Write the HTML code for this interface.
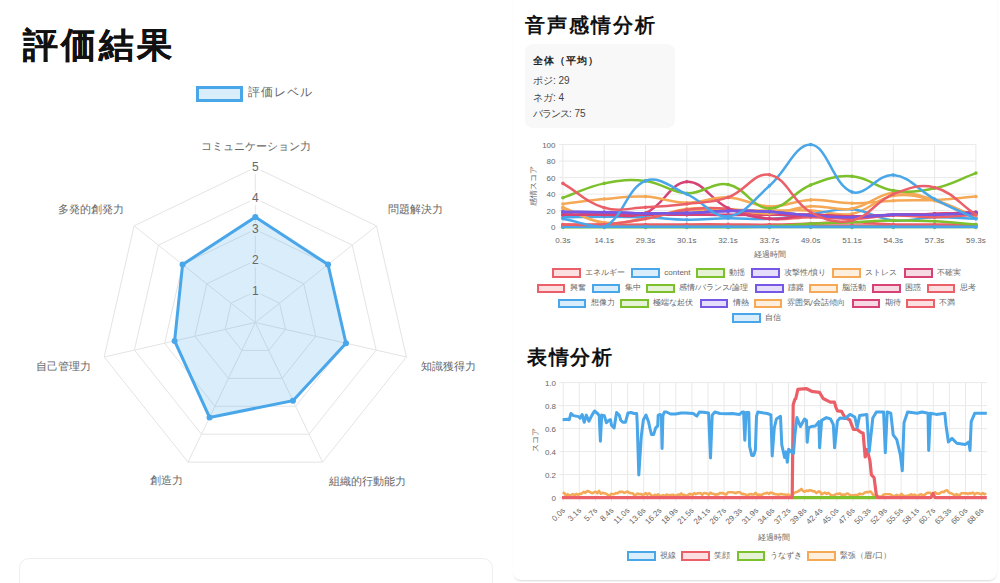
<!DOCTYPE html><html><head><meta charset="utf-8"><style>
html,body{margin:0;padding:0;background:#fff;}
body{width:1000px;height:583px;overflow:hidden;position:relative;font-family:"Liberation Sans", sans-serif;}
.abs{position:absolute;white-space:nowrap}
</style></head><body>
<div class="abs" style="left:22.5px;top:27px;font-size:35px;line-height:35px;font-weight:bold;letter-spacing:3.1px;color:#111;-webkit-text-stroke:0.25px #111">評価結果</div>
<div class="abs" style="left:196px;top:85.5px;width:47px;height:16px;box-sizing:border-box;border:3px solid rgb(72,166,233);background:rgba(72,166,233,0.20)"></div>
<div class="abs" style="left:248px;top:86px;font-size:12px;line-height:13px;letter-spacing:1px;color:#666">評価レベル</div>
<svg width="500" height="583" style="position:absolute;left:0;top:0">
<polygon points="255.30,291.50 279.54,303.17 285.52,329.40 268.75,350.43 241.85,350.43 225.08,329.40 231.06,303.17" fill="none" stroke="#e4e4e4" stroke-width="1"/>
<polygon points="255.30,260.50 303.77,283.84 315.75,336.30 282.20,378.36 228.40,378.36 194.85,336.30 206.83,283.84" fill="none" stroke="#e4e4e4" stroke-width="1"/>
<polygon points="255.30,229.50 328.01,264.52 345.97,343.19 295.65,406.29 214.95,406.29 164.63,343.19 182.59,264.52" fill="none" stroke="#e4e4e4" stroke-width="1"/>
<polygon points="255.30,198.50 352.25,245.19 376.19,350.09 309.10,434.22 201.50,434.22 134.41,350.09 158.35,245.19" fill="none" stroke="#e4e4e4" stroke-width="1"/>
<polygon points="255.30,167.50 376.48,225.86 406.41,356.99 322.55,462.15 188.05,462.15 104.19,356.99 134.12,225.86" fill="none" stroke="#e4e4e4" stroke-width="1"/>
<line x1="255.30" y1="322.50" x2="255.30" y2="167.50" stroke="#e4e4e4" stroke-width="1"/>
<line x1="255.30" y1="322.50" x2="376.48" y2="225.86" stroke="#e4e4e4" stroke-width="1"/>
<line x1="255.30" y1="322.50" x2="406.41" y2="356.99" stroke="#e4e4e4" stroke-width="1"/>
<line x1="255.30" y1="322.50" x2="322.55" y2="462.15" stroke="#e4e4e4" stroke-width="1"/>
<line x1="255.30" y1="322.50" x2="188.05" y2="462.15" stroke="#e4e4e4" stroke-width="1"/>
<line x1="255.30" y1="322.50" x2="104.19" y2="356.99" stroke="#e4e4e4" stroke-width="1"/>
<line x1="255.30" y1="322.50" x2="134.12" y2="225.86" stroke="#e4e4e4" stroke-width="1"/>
<rect x="249.8" y="284.5" width="11" height="14" fill="rgba(255,255,255,0.75)"/>
<rect x="249.8" y="253.5" width="11" height="14" fill="rgba(255,255,255,0.75)"/>
<rect x="249.8" y="222.5" width="11" height="14" fill="rgba(255,255,255,0.75)"/>
<rect x="249.8" y="191.5" width="11" height="14" fill="rgba(255,255,255,0.75)"/>
<rect x="249.8" y="160.5" width="11" height="14" fill="rgba(255,255,255,0.75)"/>
<polygon points="255.30,217.10 328.01,264.52 345.97,343.19 292.96,400.70 209.57,417.46 174.61,340.92 182.59,264.52" fill="rgba(72,166,233,0.20)" stroke="none"/>
<text x="255.3" y="294.8" font-size="12" fill="#666" text-anchor="middle" font-family='"Liberation Sans", sans-serif'>1</text>
<text x="255.3" y="263.8" font-size="12" fill="#666" text-anchor="middle" font-family='"Liberation Sans", sans-serif'>2</text>
<text x="255.3" y="232.8" font-size="12" fill="#666" text-anchor="middle" font-family='"Liberation Sans", sans-serif'>3</text>
<text x="255.3" y="201.8" font-size="12" fill="#666" text-anchor="middle" font-family='"Liberation Sans", sans-serif'>4</text>
<text x="255.3" y="170.8" font-size="12" fill="#666" text-anchor="middle" font-family='"Liberation Sans", sans-serif'>5</text>
<polygon points="255.30,217.10 328.01,264.52 345.97,343.19 292.96,400.70 209.57,417.46 174.61,340.92 182.59,264.52" fill="none" stroke="rgb(72,166,233)" stroke-width="3" stroke-linejoin="miter"/>
<circle cx="255.30" cy="217.10" r="3" fill="rgb(72,166,233)"/>
<circle cx="328.01" cy="264.52" r="3" fill="rgb(72,166,233)"/>
<circle cx="345.97" cy="343.19" r="3" fill="rgb(72,166,233)"/>
<circle cx="292.96" cy="400.70" r="3" fill="rgb(72,166,233)"/>
<circle cx="209.57" cy="417.46" r="3" fill="rgb(72,166,233)"/>
<circle cx="174.61" cy="340.92" r="3" fill="rgb(72,166,233)"/>
<circle cx="182.59" cy="264.52" r="3" fill="rgb(72,166,233)"/>
</svg>
<div class="abs" style="left:256.0px;top:141.0px;font-size:11px;line-height:11px;letter-spacing:0px;color:#666;transform:translateX(-50%)">コミュニケーション力</div>
<div class="abs" style="left:388.0px;top:204.0px;font-size:11px;line-height:11px;letter-spacing:0px;color:#666;transform:">問題解決力</div>
<div class="abs" style="left:421.0px;top:361.0px;font-size:11px;line-height:11px;letter-spacing:0px;color:#666;transform:">知識獲得力</div>
<div class="abs" style="left:329.0px;top:475.5px;font-size:11px;line-height:11px;letter-spacing:0px;color:#666;transform:">組織的行動能力</div>
<div class="abs" style="left:183.0px;top:475.0px;font-size:11px;line-height:11px;letter-spacing:0px;color:#666;transform:translateX(-100%)">創造力</div>
<div class="abs" style="left:91.0px;top:360.5px;font-size:11px;line-height:11px;letter-spacing:0px;color:#666;transform:translateX(-100%)">自己管理力</div>
<div class="abs" style="left:124.0px;top:204.3px;font-size:11px;line-height:11px;letter-spacing:0px;color:#666;transform:translateX(-100%)">多発的創発力</div>
<div class="abs" style="left:19px;top:558px;width:472px;height:60px;border:1px solid #eeeeee;border-radius:10px;"></div>
<div class="abs" style="left:513px;top:-10px;width:484px;height:590px;border-radius:8px;box-shadow:0 2px 2px -1px rgba(0,0,0,0.15), 1px 0 2px -1px rgba(0,0,0,0.05);background:#fff"></div>
<div class="abs" style="left:525px;top:15px;font-size:20px;line-height:20px;font-weight:bold;letter-spacing:2px;color:#111">音声感情分析</div>
<div class="abs" style="left:525px;top:44.4px;width:150px;height:83.2px;border-radius:8px;background:#f8f8f8"></div>
<div class="abs" style="left:533px;top:55.5px;font-size:10px;line-height:10px;font-weight:bold;letter-spacing:1px;color:#222">全体（平均）</div>
<div class="abs" style="left:533px;top:75px;font-size:10px;line-height:11px;color:#444">ポジ: 29</div>
<div class="abs" style="left:533px;top:92px;font-size:10px;line-height:11px;color:#444">ネガ: 4</div>
<div class="abs" style="left:533px;top:108px;font-size:10px;line-height:11px;color:#444"><span style="letter-spacing:-1px">バランス</span>: 75</div>
<svg width="1000" height="583" style="position:absolute;left:0;top:0">
<line x1="558.9" y1="227.1" x2="975.9" y2="227.1" stroke="#e9e9e9" stroke-width="1"/>
<text x="555.5" y="230.0" font-size="8" fill="#666" text-anchor="end" font-family='"Liberation Sans", sans-serif'>0</text>
<line x1="558.9" y1="210.6" x2="975.9" y2="210.6" stroke="#e9e9e9" stroke-width="1"/>
<text x="555.5" y="213.5" font-size="8" fill="#666" text-anchor="end" font-family='"Liberation Sans", sans-serif'>20</text>
<line x1="558.9" y1="194.1" x2="975.9" y2="194.1" stroke="#e9e9e9" stroke-width="1"/>
<text x="555.5" y="197.0" font-size="8" fill="#666" text-anchor="end" font-family='"Liberation Sans", sans-serif'>40</text>
<line x1="558.9" y1="177.6" x2="975.9" y2="177.6" stroke="#e9e9e9" stroke-width="1"/>
<text x="555.5" y="180.5" font-size="8" fill="#666" text-anchor="end" font-family='"Liberation Sans", sans-serif'>60</text>
<line x1="558.9" y1="161.1" x2="975.9" y2="161.1" stroke="#e9e9e9" stroke-width="1"/>
<text x="555.5" y="164.0" font-size="8" fill="#666" text-anchor="end" font-family='"Liberation Sans", sans-serif'>80</text>
<line x1="558.9" y1="144.6" x2="975.9" y2="144.6" stroke="#e9e9e9" stroke-width="1"/>
<text x="555.5" y="147.5" font-size="8" fill="#666" text-anchor="end" font-family='"Liberation Sans", sans-serif'>100</text>
<line x1="562.9" y1="144.6" x2="562.9" y2="231.1" stroke="#e9e9e9" stroke-width="1"/>
<text x="562.9" y="242.6" font-size="8" fill="#666" text-anchor="middle" font-family='"Liberation Sans", sans-serif'>0.3s</text>
<line x1="604.2" y1="144.6" x2="604.2" y2="231.1" stroke="#e9e9e9" stroke-width="1"/>
<text x="604.2" y="242.6" font-size="8" fill="#666" text-anchor="middle" font-family='"Liberation Sans", sans-serif'>14.1s</text>
<line x1="645.5" y1="144.6" x2="645.5" y2="231.1" stroke="#e9e9e9" stroke-width="1"/>
<text x="645.5" y="242.6" font-size="8" fill="#666" text-anchor="middle" font-family='"Liberation Sans", sans-serif'>29.3s</text>
<line x1="686.8" y1="144.6" x2="686.8" y2="231.1" stroke="#e9e9e9" stroke-width="1"/>
<text x="686.8" y="242.6" font-size="8" fill="#666" text-anchor="middle" font-family='"Liberation Sans", sans-serif'>30.1s</text>
<line x1="728.1" y1="144.6" x2="728.1" y2="231.1" stroke="#e9e9e9" stroke-width="1"/>
<text x="728.1" y="242.6" font-size="8" fill="#666" text-anchor="middle" font-family='"Liberation Sans", sans-serif'>32.1s</text>
<line x1="769.4" y1="144.6" x2="769.4" y2="231.1" stroke="#e9e9e9" stroke-width="1"/>
<text x="769.4" y="242.6" font-size="8" fill="#666" text-anchor="middle" font-family='"Liberation Sans", sans-serif'>33.7s</text>
<line x1="810.7" y1="144.6" x2="810.7" y2="231.1" stroke="#e9e9e9" stroke-width="1"/>
<text x="810.7" y="242.6" font-size="8" fill="#666" text-anchor="middle" font-family='"Liberation Sans", sans-serif'>49.0s</text>
<line x1="852.0" y1="144.6" x2="852.0" y2="231.1" stroke="#e9e9e9" stroke-width="1"/>
<text x="852.0" y="242.6" font-size="8" fill="#666" text-anchor="middle" font-family='"Liberation Sans", sans-serif'>51.1s</text>
<line x1="893.3" y1="144.6" x2="893.3" y2="231.1" stroke="#e9e9e9" stroke-width="1"/>
<text x="893.3" y="242.6" font-size="8" fill="#666" text-anchor="middle" font-family='"Liberation Sans", sans-serif'>54.3s</text>
<line x1="934.6" y1="144.6" x2="934.6" y2="231.1" stroke="#e9e9e9" stroke-width="1"/>
<text x="934.6" y="242.6" font-size="8" fill="#666" text-anchor="middle" font-family='"Liberation Sans", sans-serif'>57.3s</text>
<line x1="975.9" y1="144.6" x2="975.9" y2="231.1" stroke="#e9e9e9" stroke-width="1"/>
<text x="975.9" y="242.6" font-size="8" fill="#666" text-anchor="middle" font-family='"Liberation Sans", sans-serif'>59.3s</text>
<text x="769.6" y="256.6" font-size="8" fill="#666" text-anchor="middle" font-family='"Liberation Sans", sans-serif'>経過時間</text>
<text transform="translate(535.5,186) rotate(-90)" font-size="8" fill="#666" text-anchor="middle" font-family='"Liberation Sans", sans-serif'>感情スコア</text>
<path d="M562.90,227.10 C579.42,227.10 587.68,227.10 604.20,227.10 C620.72,227.10 628.98,227.10 645.50,227.10 C662.02,227.10 670.28,227.10 686.80,227.10 C703.32,227.10 711.58,227.10 728.10,227.10 C744.62,227.10 752.88,227.10 769.40,227.10 C785.92,227.10 794.18,227.10 810.70,227.10 C827.22,227.10 835.48,227.10 852.00,227.10 C868.52,227.10 876.78,227.10 893.30,227.10 C909.82,227.10 918.08,227.10 934.60,227.10 C951.12,227.10 959.38,227.10 975.90,227.10" fill="none" stroke="rgb(72,166,233)" stroke-width="2.5"/>
<circle cx="562.9" cy="227.1" r="1.8" fill="rgb(72,166,233)"/>
<circle cx="604.2" cy="227.1" r="1.8" fill="rgb(72,166,233)"/>
<circle cx="645.5" cy="227.1" r="1.8" fill="rgb(72,166,233)"/>
<circle cx="686.8" cy="227.1" r="1.8" fill="rgb(72,166,233)"/>
<circle cx="728.1" cy="227.1" r="1.8" fill="rgb(72,166,233)"/>
<circle cx="769.4" cy="227.1" r="1.8" fill="rgb(72,166,233)"/>
<circle cx="810.7" cy="227.1" r="1.8" fill="rgb(72,166,233)"/>
<circle cx="852.0" cy="227.1" r="1.8" fill="rgb(72,166,233)"/>
<circle cx="893.3" cy="227.1" r="1.8" fill="rgb(72,166,233)"/>
<circle cx="934.6" cy="227.1" r="1.8" fill="rgb(72,166,233)"/>
<circle cx="975.9" cy="227.1" r="1.8" fill="rgb(72,166,233)"/>
<path d="M562.90,225.45 C579.42,225.45 587.68,225.45 604.20,225.45 C620.72,225.45 628.98,225.45 645.50,225.45 C662.02,225.45 670.28,225.45 686.80,225.45 C703.32,225.45 711.58,225.45 728.10,225.45 C744.62,225.45 752.88,225.45 769.40,225.45 C785.92,225.45 794.18,225.45 810.70,225.45 C827.22,225.45 835.48,225.45 852.00,225.45 C868.52,225.45 876.78,225.45 893.30,225.45 C909.82,225.45 918.08,225.45 934.60,225.45 C951.12,225.45 959.38,225.45 975.90,225.45" fill="none" stroke="rgb(235,96,104)" stroke-width="2.5"/>
<circle cx="562.9" cy="225.4" r="1.8" fill="rgb(235,96,104)"/>
<circle cx="604.2" cy="225.4" r="1.8" fill="rgb(235,96,104)"/>
<circle cx="645.5" cy="225.4" r="1.8" fill="rgb(235,96,104)"/>
<circle cx="686.8" cy="225.4" r="1.8" fill="rgb(235,96,104)"/>
<circle cx="728.1" cy="225.4" r="1.8" fill="rgb(235,96,104)"/>
<circle cx="769.4" cy="225.4" r="1.8" fill="rgb(235,96,104)"/>
<circle cx="810.7" cy="225.4" r="1.8" fill="rgb(235,96,104)"/>
<circle cx="852.0" cy="225.4" r="1.8" fill="rgb(235,96,104)"/>
<circle cx="893.3" cy="225.4" r="1.8" fill="rgb(235,96,104)"/>
<circle cx="934.6" cy="225.4" r="1.8" fill="rgb(235,96,104)"/>
<circle cx="975.9" cy="225.4" r="1.8" fill="rgb(235,96,104)"/>
<path d="M562.90,214.72 C579.42,214.72 587.68,214.72 604.20,214.72 C620.72,214.72 628.98,214.72 645.50,214.72 C662.02,214.72 670.28,214.68 686.80,214.72 C703.32,214.77 711.58,214.97 728.10,214.97 C744.62,214.97 752.88,214.77 769.40,214.72 C785.92,214.68 794.19,214.40 810.70,214.72 C827.23,215.06 835.48,216.38 852.00,216.38 C868.52,216.38 876.78,215.22 893.30,214.72 C909.82,214.23 918.08,214.39 934.60,213.90 C951.12,213.40 959.38,212.91 975.90,212.25" fill="none" stroke="rgb(214,66,118)" stroke-width="2.5"/>
<circle cx="562.9" cy="214.7" r="1.8" fill="rgb(214,66,118)"/>
<circle cx="604.2" cy="214.7" r="1.8" fill="rgb(214,66,118)"/>
<circle cx="645.5" cy="214.7" r="1.8" fill="rgb(214,66,118)"/>
<circle cx="686.8" cy="214.7" r="1.8" fill="rgb(214,66,118)"/>
<circle cx="728.1" cy="215.0" r="1.8" fill="rgb(214,66,118)"/>
<circle cx="769.4" cy="214.7" r="1.8" fill="rgb(214,66,118)"/>
<circle cx="810.7" cy="214.7" r="1.8" fill="rgb(214,66,118)"/>
<circle cx="852.0" cy="216.4" r="1.8" fill="rgb(214,66,118)"/>
<circle cx="893.3" cy="214.7" r="1.8" fill="rgb(214,66,118)"/>
<circle cx="934.6" cy="213.9" r="1.8" fill="rgb(214,66,118)"/>
<circle cx="975.9" cy="212.2" r="1.8" fill="rgb(214,66,118)"/>
<path d="M562.90,207.30 C579.42,213.57 587.18,220.77 604.20,222.97 C620.22,225.06 629.05,220.49 645.50,218.03 C662.09,215.54 670.15,212.26 686.80,210.60 C703.19,208.96 711.58,209.78 728.10,209.78 C744.62,209.78 752.88,210.43 769.40,210.60 C785.92,210.76 794.21,209.94 810.70,210.60 C827.25,211.26 836.18,216.74 852.00,213.90 C869.22,210.80 876.11,198.50 893.30,195.75 C909.15,193.22 918.63,196.55 934.60,200.70 C951.67,205.13 959.38,210.60 975.90,217.20" fill="none" stroke="rgb(245,169,86)" stroke-width="2.5"/>
<circle cx="562.9" cy="207.3" r="1.8" fill="rgb(245,169,86)"/>
<circle cx="604.2" cy="223.0" r="1.8" fill="rgb(245,169,86)"/>
<circle cx="645.5" cy="218.0" r="1.8" fill="rgb(245,169,86)"/>
<circle cx="686.8" cy="210.6" r="1.8" fill="rgb(245,169,86)"/>
<circle cx="728.1" cy="209.8" r="1.8" fill="rgb(245,169,86)"/>
<circle cx="769.4" cy="210.6" r="1.8" fill="rgb(245,169,86)"/>
<circle cx="810.7" cy="210.6" r="1.8" fill="rgb(245,169,86)"/>
<circle cx="852.0" cy="213.9" r="1.8" fill="rgb(245,169,86)"/>
<circle cx="893.3" cy="195.8" r="1.8" fill="rgb(245,169,86)"/>
<circle cx="934.6" cy="200.7" r="1.8" fill="rgb(245,169,86)"/>
<circle cx="975.9" cy="217.2" r="1.8" fill="rgb(245,169,86)"/>
<path d="M562.90,211.92 C579.42,212.05 587.68,211.94 604.20,212.25 C620.72,212.56 628.98,213.32 645.50,213.49 C662.02,213.65 670.29,213.59 686.80,213.07 C703.33,212.56 711.57,211.19 728.10,210.93 C744.61,210.67 752.91,210.83 769.40,211.75 C785.95,212.68 794.15,214.46 810.70,215.55 C827.19,216.64 835.49,217.36 852.00,217.20 C868.53,217.03 876.77,215.22 893.30,214.72 C909.81,214.23 918.09,215.05 934.60,214.72 C951.13,214.39 959.38,213.73 975.90,213.07" fill="none" stroke="rgb(118,88,228)" stroke-width="2.5"/>
<circle cx="562.9" cy="211.9" r="1.8" fill="rgb(118,88,228)"/>
<circle cx="604.2" cy="212.2" r="1.8" fill="rgb(118,88,228)"/>
<circle cx="645.5" cy="213.5" r="1.8" fill="rgb(118,88,228)"/>
<circle cx="686.8" cy="213.1" r="1.8" fill="rgb(118,88,228)"/>
<circle cx="728.1" cy="210.9" r="1.8" fill="rgb(118,88,228)"/>
<circle cx="769.4" cy="211.8" r="1.8" fill="rgb(118,88,228)"/>
<circle cx="810.7" cy="215.5" r="1.8" fill="rgb(118,88,228)"/>
<circle cx="852.0" cy="217.2" r="1.8" fill="rgb(118,88,228)"/>
<circle cx="893.3" cy="214.7" r="1.8" fill="rgb(118,88,228)"/>
<circle cx="934.6" cy="214.7" r="1.8" fill="rgb(118,88,228)"/>
<circle cx="975.9" cy="213.1" r="1.8" fill="rgb(118,88,228)"/>
<path d="M562.90,227.10 C579.42,227.10 587.68,227.10 604.20,227.10 C620.72,227.10 628.98,227.10 645.50,227.10 C662.02,227.10 670.28,227.10 686.80,227.10 C703.32,227.10 711.58,227.10 728.10,227.10 C744.62,227.10 752.88,227.10 769.40,227.10 C785.92,227.10 794.18,227.10 810.70,227.10 C827.22,227.10 835.48,227.10 852.00,227.10 C868.52,227.10 876.78,227.10 893.30,227.10 C909.82,227.10 918.08,227.10 934.60,227.10 C951.12,227.10 959.38,227.10 975.90,227.10" fill="none" stroke="rgb(124,192,44)" stroke-width="2.5"/>
<circle cx="562.9" cy="227.1" r="1.8" fill="rgb(124,192,44)"/>
<circle cx="604.2" cy="227.1" r="1.8" fill="rgb(124,192,44)"/>
<circle cx="645.5" cy="227.1" r="1.8" fill="rgb(124,192,44)"/>
<circle cx="686.8" cy="227.1" r="1.8" fill="rgb(124,192,44)"/>
<circle cx="728.1" cy="227.1" r="1.8" fill="rgb(124,192,44)"/>
<circle cx="769.4" cy="227.1" r="1.8" fill="rgb(124,192,44)"/>
<circle cx="810.7" cy="227.1" r="1.8" fill="rgb(124,192,44)"/>
<circle cx="852.0" cy="227.1" r="1.8" fill="rgb(124,192,44)"/>
<circle cx="893.3" cy="227.1" r="1.8" fill="rgb(124,192,44)"/>
<circle cx="934.6" cy="227.1" r="1.8" fill="rgb(124,192,44)"/>
<circle cx="975.9" cy="227.1" r="1.8" fill="rgb(124,192,44)"/>
<path d="M562.90,217.20 C579.42,217.00 587.68,216.70 604.20,216.70 C620.72,216.70 628.99,216.61 645.50,217.20 C662.03,217.79 670.27,219.46 686.80,219.67 C703.31,219.89 711.58,218.44 728.10,218.27 C744.62,218.11 752.93,219.67 769.40,218.85 C785.97,218.02 794.18,216.04 810.70,214.15 C827.22,212.25 835.71,208.11 852.00,209.36 C868.75,210.65 876.52,218.91 893.30,220.50 C909.56,222.04 918.06,217.53 934.60,217.20 C951.10,216.87 959.38,218.19 975.90,218.85" fill="none" stroke="rgb(72,166,233)" stroke-width="2.5"/>
<circle cx="562.9" cy="217.2" r="1.8" fill="rgb(72,166,233)"/>
<circle cx="604.2" cy="216.7" r="1.8" fill="rgb(72,166,233)"/>
<circle cx="645.5" cy="217.2" r="1.8" fill="rgb(72,166,233)"/>
<circle cx="686.8" cy="219.7" r="1.8" fill="rgb(72,166,233)"/>
<circle cx="728.1" cy="218.3" r="1.8" fill="rgb(72,166,233)"/>
<circle cx="769.4" cy="218.8" r="1.8" fill="rgb(72,166,233)"/>
<circle cx="810.7" cy="214.1" r="1.8" fill="rgb(72,166,233)"/>
<circle cx="852.0" cy="209.4" r="1.8" fill="rgb(72,166,233)"/>
<circle cx="893.3" cy="220.5" r="1.8" fill="rgb(72,166,233)"/>
<circle cx="934.6" cy="217.2" r="1.8" fill="rgb(72,166,233)"/>
<circle cx="975.9" cy="218.8" r="1.8" fill="rgb(72,166,233)"/>
<path d="M562.90,224.62 C579.42,224.62 587.68,224.62 604.20,224.62 C620.72,224.62 628.98,224.67 645.50,224.62 C662.02,224.58 670.28,224.43 686.80,224.38 C703.32,224.33 711.58,224.33 728.10,224.38 C744.62,224.43 752.88,224.79 769.40,224.62 C785.92,224.46 794.18,224.05 810.70,223.55 C827.22,223.06 835.49,221.99 852.00,222.15 C868.53,222.32 876.77,223.93 893.30,224.38 C909.81,224.82 918.08,224.33 934.60,224.38 C951.12,224.43 959.38,224.53 975.90,224.62" fill="none" stroke="rgb(235,96,104)" stroke-width="2.5"/>
<circle cx="562.9" cy="224.6" r="1.8" fill="rgb(235,96,104)"/>
<circle cx="604.2" cy="224.6" r="1.8" fill="rgb(235,96,104)"/>
<circle cx="645.5" cy="224.6" r="1.8" fill="rgb(235,96,104)"/>
<circle cx="686.8" cy="224.4" r="1.8" fill="rgb(235,96,104)"/>
<circle cx="728.1" cy="224.4" r="1.8" fill="rgb(235,96,104)"/>
<circle cx="769.4" cy="224.6" r="1.8" fill="rgb(235,96,104)"/>
<circle cx="810.7" cy="223.6" r="1.8" fill="rgb(235,96,104)"/>
<circle cx="852.0" cy="222.2" r="1.8" fill="rgb(235,96,104)"/>
<circle cx="893.3" cy="224.4" r="1.8" fill="rgb(235,96,104)"/>
<circle cx="934.6" cy="224.4" r="1.8" fill="rgb(235,96,104)"/>
<circle cx="975.9" cy="224.6" r="1.8" fill="rgb(235,96,104)"/>
<path d="M562.90,214.72 C579.42,214.72 587.68,214.72 604.20,214.72 C620.72,214.72 628.98,214.72 645.50,214.72 C662.02,214.72 670.28,214.68 686.80,214.72 C703.32,214.77 711.58,214.97 728.10,214.97 C744.62,214.97 752.88,214.77 769.40,214.72 C785.92,214.68 794.19,214.40 810.70,214.72 C827.23,215.06 835.48,216.38 852.00,216.38 C868.52,216.38 876.78,215.22 893.30,214.72 C909.82,214.23 918.08,214.39 934.60,213.90 C951.12,213.40 959.38,212.91 975.90,212.25" fill="none" stroke="rgb(214,66,118)" stroke-width="2.5"/>
<circle cx="562.9" cy="214.7" r="1.8" fill="rgb(214,66,118)"/>
<circle cx="604.2" cy="214.7" r="1.8" fill="rgb(214,66,118)"/>
<circle cx="645.5" cy="214.7" r="1.8" fill="rgb(214,66,118)"/>
<circle cx="686.8" cy="214.7" r="1.8" fill="rgb(214,66,118)"/>
<circle cx="728.1" cy="215.0" r="1.8" fill="rgb(214,66,118)"/>
<circle cx="769.4" cy="214.7" r="1.8" fill="rgb(214,66,118)"/>
<circle cx="810.7" cy="214.7" r="1.8" fill="rgb(214,66,118)"/>
<circle cx="852.0" cy="216.4" r="1.8" fill="rgb(214,66,118)"/>
<circle cx="893.3" cy="214.7" r="1.8" fill="rgb(214,66,118)"/>
<circle cx="934.6" cy="213.9" r="1.8" fill="rgb(214,66,118)"/>
<circle cx="975.9" cy="212.2" r="1.8" fill="rgb(214,66,118)"/>
<path d="M562.90,208.37 C579.42,214.02 587.26,220.33 604.20,222.48 C620.30,224.52 629.18,221.52 645.50,218.85 C662.22,216.11 670.05,210.96 686.80,208.95 C703.09,207.00 711.63,208.03 728.10,208.95 C744.67,209.88 752.96,214.11 769.40,213.57 C786.00,213.02 794.07,207.22 810.70,206.23 C827.11,205.24 836.03,211.20 852.00,208.62 C869.07,205.86 876.34,194.66 893.30,192.86 C909.38,191.16 918.63,195.17 934.60,199.88 C951.67,204.91 959.38,210.27 975.90,217.20" fill="none" stroke="rgb(245,169,86)" stroke-width="2.5"/>
<circle cx="562.9" cy="208.4" r="1.8" fill="rgb(245,169,86)"/>
<circle cx="604.2" cy="222.5" r="1.8" fill="rgb(245,169,86)"/>
<circle cx="645.5" cy="218.8" r="1.8" fill="rgb(245,169,86)"/>
<circle cx="686.8" cy="208.9" r="1.8" fill="rgb(245,169,86)"/>
<circle cx="728.1" cy="208.9" r="1.8" fill="rgb(245,169,86)"/>
<circle cx="769.4" cy="213.6" r="1.8" fill="rgb(245,169,86)"/>
<circle cx="810.7" cy="206.2" r="1.8" fill="rgb(245,169,86)"/>
<circle cx="852.0" cy="208.6" r="1.8" fill="rgb(245,169,86)"/>
<circle cx="893.3" cy="192.9" r="1.8" fill="rgb(245,169,86)"/>
<circle cx="934.6" cy="199.9" r="1.8" fill="rgb(245,169,86)"/>
<circle cx="975.9" cy="217.2" r="1.8" fill="rgb(245,169,86)"/>
<path d="M562.90,211.92 C579.42,212.05 587.68,211.94 604.20,212.25 C620.72,212.56 628.98,213.32 645.50,213.49 C662.02,213.65 670.29,213.59 686.80,213.07 C703.33,212.56 711.57,211.19 728.10,210.93 C744.61,210.67 752.91,210.83 769.40,211.75 C785.95,212.68 794.15,214.46 810.70,215.55 C827.19,216.64 835.49,217.36 852.00,217.20 C868.53,217.03 876.77,215.22 893.30,214.72 C909.81,214.23 918.09,215.05 934.60,214.72 C951.13,214.39 959.38,213.73 975.90,213.07" fill="none" stroke="rgb(118,88,228)" stroke-width="2.5"/>
<circle cx="562.9" cy="211.9" r="1.8" fill="rgb(118,88,228)"/>
<circle cx="604.2" cy="212.2" r="1.8" fill="rgb(118,88,228)"/>
<circle cx="645.5" cy="213.5" r="1.8" fill="rgb(118,88,228)"/>
<circle cx="686.8" cy="213.1" r="1.8" fill="rgb(118,88,228)"/>
<circle cx="728.1" cy="210.9" r="1.8" fill="rgb(118,88,228)"/>
<circle cx="769.4" cy="211.8" r="1.8" fill="rgb(118,88,228)"/>
<circle cx="810.7" cy="215.5" r="1.8" fill="rgb(118,88,228)"/>
<circle cx="852.0" cy="217.2" r="1.8" fill="rgb(118,88,228)"/>
<circle cx="893.3" cy="214.7" r="1.8" fill="rgb(118,88,228)"/>
<circle cx="934.6" cy="214.7" r="1.8" fill="rgb(118,88,228)"/>
<circle cx="975.9" cy="213.1" r="1.8" fill="rgb(118,88,228)"/>
<path d="M562.90,227.10 C579.42,227.10 587.68,227.10 604.20,227.10 C620.72,227.10 628.98,227.10 645.50,227.10 C662.02,227.10 670.28,227.10 686.80,227.10 C703.32,227.10 711.58,227.10 728.10,227.10 C744.62,226.93 752.89,226.93 769.40,226.28 C785.93,225.61 794.17,224.63 810.70,223.80 C827.21,222.98 835.48,222.81 852.00,222.15 C868.52,221.49 876.78,220.67 893.30,220.50 C909.82,220.34 918.10,220.50 934.60,221.32 C951.14,222.15 959.38,223.31 975.90,224.62" fill="none" stroke="rgb(124,192,44)" stroke-width="2.5"/>
<circle cx="562.9" cy="227.1" r="1.8" fill="rgb(124,192,44)"/>
<circle cx="604.2" cy="227.1" r="1.8" fill="rgb(124,192,44)"/>
<circle cx="645.5" cy="227.1" r="1.8" fill="rgb(124,192,44)"/>
<circle cx="686.8" cy="227.1" r="1.8" fill="rgb(124,192,44)"/>
<circle cx="728.1" cy="227.1" r="1.8" fill="rgb(124,192,44)"/>
<circle cx="769.4" cy="226.3" r="1.8" fill="rgb(124,192,44)"/>
<circle cx="810.7" cy="223.8" r="1.8" fill="rgb(124,192,44)"/>
<circle cx="852.0" cy="222.2" r="1.8" fill="rgb(124,192,44)"/>
<circle cx="893.3" cy="220.5" r="1.8" fill="rgb(124,192,44)"/>
<circle cx="934.6" cy="221.3" r="1.8" fill="rgb(124,192,44)"/>
<circle cx="975.9" cy="224.6" r="1.8" fill="rgb(124,192,44)"/>
<path d="M562.90,226.85 C579.42,226.85 587.68,226.85 604.20,226.85 C620.72,226.85 628.98,226.85 645.50,226.85 C662.02,226.85 670.28,226.85 686.80,226.85 C703.32,226.85 711.58,226.85 728.10,226.85 C744.62,226.85 752.88,226.85 769.40,226.85 C785.92,226.85 794.18,226.85 810.70,226.85 C827.22,226.85 835.48,226.85 852.00,226.85 C868.52,226.85 876.78,226.85 893.30,226.85 C909.82,226.85 918.08,226.85 934.60,226.85 C951.12,226.85 959.38,226.85 975.90,226.85" fill="none" stroke="rgb(72,166,233)" stroke-width="2.5"/>
<circle cx="562.9" cy="226.9" r="1.8" fill="rgb(72,166,233)"/>
<circle cx="604.2" cy="226.9" r="1.8" fill="rgb(72,166,233)"/>
<circle cx="645.5" cy="226.9" r="1.8" fill="rgb(72,166,233)"/>
<circle cx="686.8" cy="226.9" r="1.8" fill="rgb(72,166,233)"/>
<circle cx="728.1" cy="226.9" r="1.8" fill="rgb(72,166,233)"/>
<circle cx="769.4" cy="226.9" r="1.8" fill="rgb(72,166,233)"/>
<circle cx="810.7" cy="226.9" r="1.8" fill="rgb(72,166,233)"/>
<circle cx="852.0" cy="226.9" r="1.8" fill="rgb(72,166,233)"/>
<circle cx="893.3" cy="226.9" r="1.8" fill="rgb(72,166,233)"/>
<circle cx="934.6" cy="226.9" r="1.8" fill="rgb(72,166,233)"/>
<circle cx="975.9" cy="226.9" r="1.8" fill="rgb(72,166,233)"/>
<path d="M562.90,224.62 C579.42,224.62 587.76,225.77 604.20,224.62 C620.80,223.46 629.09,221.80 645.50,218.85 C662.13,215.86 670.09,211.78 686.80,209.78 C703.13,207.82 711.81,207.16 728.10,208.95 C744.85,210.79 752.66,217.18 769.40,218.85 C785.70,220.48 794.18,217.20 810.70,217.20 C827.22,217.20 835.50,219.18 852.00,218.85 C868.54,218.52 876.76,215.88 893.30,215.55 C909.80,215.22 918.09,217.36 934.60,217.20 C951.13,217.03 959.38,215.72 975.90,214.72" fill="none" stroke="rgb(235,96,104)" stroke-width="2.5"/>
<circle cx="562.9" cy="224.6" r="1.8" fill="rgb(235,96,104)"/>
<circle cx="604.2" cy="224.6" r="1.8" fill="rgb(235,96,104)"/>
<circle cx="645.5" cy="218.8" r="1.8" fill="rgb(235,96,104)"/>
<circle cx="686.8" cy="209.8" r="1.8" fill="rgb(235,96,104)"/>
<circle cx="728.1" cy="208.9" r="1.8" fill="rgb(235,96,104)"/>
<circle cx="769.4" cy="218.8" r="1.8" fill="rgb(235,96,104)"/>
<circle cx="810.7" cy="217.2" r="1.8" fill="rgb(235,96,104)"/>
<circle cx="852.0" cy="218.8" r="1.8" fill="rgb(235,96,104)"/>
<circle cx="893.3" cy="215.5" r="1.8" fill="rgb(235,96,104)"/>
<circle cx="934.6" cy="217.2" r="1.8" fill="rgb(235,96,104)"/>
<circle cx="975.9" cy="214.7" r="1.8" fill="rgb(235,96,104)"/>
<path d="M562.90,214.72 C579.42,214.72 587.69,215.05 604.20,214.72 C620.73,214.39 630.84,218.93 645.50,213.07 C663.88,205.73 669.82,182.74 686.80,181.72 C702.86,180.76 710.44,200.19 728.10,208.12 C743.48,215.04 752.65,217.51 769.40,218.85 C785.69,220.15 794.15,215.06 810.70,214.72 C827.19,214.40 835.48,217.20 852.00,217.20 C868.52,217.20 876.77,215.39 893.30,214.72 C909.81,214.07 918.08,214.39 934.60,213.90 C951.12,213.40 959.38,212.91 975.90,212.25" fill="none" stroke="rgb(214,66,118)" stroke-width="2.5"/>
<circle cx="562.9" cy="214.7" r="1.8" fill="rgb(214,66,118)"/>
<circle cx="604.2" cy="214.7" r="1.8" fill="rgb(214,66,118)"/>
<circle cx="645.5" cy="213.1" r="1.8" fill="rgb(214,66,118)"/>
<circle cx="686.8" cy="181.7" r="1.8" fill="rgb(214,66,118)"/>
<circle cx="728.1" cy="208.1" r="1.8" fill="rgb(214,66,118)"/>
<circle cx="769.4" cy="218.8" r="1.8" fill="rgb(214,66,118)"/>
<circle cx="810.7" cy="214.7" r="1.8" fill="rgb(214,66,118)"/>
<circle cx="852.0" cy="217.2" r="1.8" fill="rgb(214,66,118)"/>
<circle cx="893.3" cy="214.7" r="1.8" fill="rgb(214,66,118)"/>
<circle cx="934.6" cy="213.9" r="1.8" fill="rgb(214,66,118)"/>
<circle cx="975.9" cy="212.2" r="1.8" fill="rgb(214,66,118)"/>
<path d="M562.90,204.00 C579.42,202.02 587.64,200.54 604.20,199.05 C620.68,197.57 629.06,195.84 645.50,196.57 C662.10,197.32 670.26,202.60 686.80,202.76 C703.30,202.93 711.71,196.66 728.10,197.40 C744.75,198.15 752.79,205.98 769.40,206.47 C785.83,206.97 794.10,200.54 810.70,199.88 C827.14,199.22 835.47,203.01 852.00,203.17 C868.51,203.34 876.77,201.36 893.30,200.70 C909.81,200.04 918.10,200.70 934.60,199.88 C951.14,199.05 959.38,197.89 975.90,196.57" fill="none" stroke="rgb(245,169,86)" stroke-width="2.5"/>
<circle cx="562.9" cy="204.0" r="1.8" fill="rgb(245,169,86)"/>
<circle cx="604.2" cy="199.0" r="1.8" fill="rgb(245,169,86)"/>
<circle cx="645.5" cy="196.6" r="1.8" fill="rgb(245,169,86)"/>
<circle cx="686.8" cy="202.8" r="1.8" fill="rgb(245,169,86)"/>
<circle cx="728.1" cy="197.4" r="1.8" fill="rgb(245,169,86)"/>
<circle cx="769.4" cy="206.5" r="1.8" fill="rgb(245,169,86)"/>
<circle cx="810.7" cy="199.9" r="1.8" fill="rgb(245,169,86)"/>
<circle cx="852.0" cy="203.2" r="1.8" fill="rgb(245,169,86)"/>
<circle cx="893.3" cy="200.7" r="1.8" fill="rgb(245,169,86)"/>
<circle cx="934.6" cy="199.9" r="1.8" fill="rgb(245,169,86)"/>
<circle cx="975.9" cy="196.6" r="1.8" fill="rgb(245,169,86)"/>
<path d="M562.90,211.92 C579.42,212.05 587.68,211.94 604.20,212.25 C620.72,212.56 628.98,213.32 645.50,213.49 C662.02,213.65 670.29,213.59 686.80,213.07 C703.33,212.56 711.57,211.19 728.10,210.93 C744.61,210.67 752.91,210.83 769.40,211.75 C785.95,212.68 794.15,214.46 810.70,215.55 C827.19,216.64 835.49,217.36 852.00,217.20 C868.53,217.03 876.77,215.22 893.30,214.72 C909.81,214.23 918.09,215.05 934.60,214.72 C951.13,214.39 959.38,213.73 975.90,213.07" fill="none" stroke="rgb(118,88,228)" stroke-width="2.5"/>
<circle cx="562.9" cy="211.9" r="1.8" fill="rgb(118,88,228)"/>
<circle cx="604.2" cy="212.2" r="1.8" fill="rgb(118,88,228)"/>
<circle cx="645.5" cy="213.5" r="1.8" fill="rgb(118,88,228)"/>
<circle cx="686.8" cy="213.1" r="1.8" fill="rgb(118,88,228)"/>
<circle cx="728.1" cy="210.9" r="1.8" fill="rgb(118,88,228)"/>
<circle cx="769.4" cy="211.8" r="1.8" fill="rgb(118,88,228)"/>
<circle cx="810.7" cy="215.5" r="1.8" fill="rgb(118,88,228)"/>
<circle cx="852.0" cy="217.2" r="1.8" fill="rgb(118,88,228)"/>
<circle cx="893.3" cy="214.7" r="1.8" fill="rgb(118,88,228)"/>
<circle cx="934.6" cy="214.7" r="1.8" fill="rgb(118,88,228)"/>
<circle cx="975.9" cy="213.1" r="1.8" fill="rgb(118,88,228)"/>
<path d="M562.90,197.81 C579.42,192.04 587.22,186.85 604.20,183.38 C620.26,180.09 629.32,178.96 645.50,180.90 C662.36,182.92 670.11,192.54 686.80,193.27 C703.15,193.99 712.60,181.67 728.10,184.53 C745.64,187.77 752.84,208.44 769.40,208.54 C785.88,208.64 793.20,191.86 810.70,185.02 C826.24,178.96 835.76,175.21 852.00,176.28 C868.80,177.39 876.33,188.00 893.30,190.47 C909.37,192.81 918.60,191.70 934.60,188.32 C951.64,184.73 959.38,179.17 975.90,173.06" fill="none" stroke="rgb(124,192,44)" stroke-width="2.5"/>
<circle cx="562.9" cy="197.8" r="1.8" fill="rgb(124,192,44)"/>
<circle cx="604.2" cy="183.4" r="1.8" fill="rgb(124,192,44)"/>
<circle cx="645.5" cy="180.9" r="1.8" fill="rgb(124,192,44)"/>
<circle cx="686.8" cy="193.3" r="1.8" fill="rgb(124,192,44)"/>
<circle cx="728.1" cy="184.5" r="1.8" fill="rgb(124,192,44)"/>
<circle cx="769.4" cy="208.5" r="1.8" fill="rgb(124,192,44)"/>
<circle cx="810.7" cy="185.0" r="1.8" fill="rgb(124,192,44)"/>
<circle cx="852.0" cy="176.3" r="1.8" fill="rgb(124,192,44)"/>
<circle cx="893.3" cy="190.5" r="1.8" fill="rgb(124,192,44)"/>
<circle cx="934.6" cy="188.3" r="1.8" fill="rgb(124,192,44)"/>
<circle cx="975.9" cy="173.1" r="1.8" fill="rgb(124,192,44)"/>
<path d="M562.90,218.85 C579.42,222.05 590.82,227.10 604.20,226.85 C623.86,217.82 626.08,188.60 645.50,180.90 C659.12,175.50 670.93,187.29 686.80,194.10 C703.97,201.48 712.33,217.95 728.10,216.38 C745.37,214.65 753.94,199.29 769.40,185.85 C786.98,170.58 794.80,144.60 810.70,144.60 C827.84,145.88 832.67,184.90 852.00,192.04 C865.71,197.11 877.33,173.77 893.30,175.12 C910.37,176.57 917.74,190.12 934.60,199.05 C950.78,207.61 959.38,210.93 975.90,218.85" fill="none" stroke="rgb(72,166,233)" stroke-width="2.5"/>
<circle cx="562.9" cy="218.8" r="1.8" fill="rgb(72,166,233)"/>
<circle cx="604.2" cy="226.9" r="1.8" fill="rgb(72,166,233)"/>
<circle cx="645.5" cy="180.9" r="1.8" fill="rgb(72,166,233)"/>
<circle cx="686.8" cy="194.1" r="1.8" fill="rgb(72,166,233)"/>
<circle cx="728.1" cy="216.4" r="1.8" fill="rgb(72,166,233)"/>
<circle cx="769.4" cy="185.8" r="1.8" fill="rgb(72,166,233)"/>
<circle cx="810.7" cy="144.6" r="1.8" fill="rgb(72,166,233)"/>
<circle cx="852.0" cy="192.0" r="1.8" fill="rgb(72,166,233)"/>
<circle cx="893.3" cy="175.1" r="1.8" fill="rgb(72,166,233)"/>
<circle cx="934.6" cy="199.0" r="1.8" fill="rgb(72,166,233)"/>
<circle cx="975.9" cy="218.8" r="1.8" fill="rgb(72,166,233)"/>
<path d="M562.90,183.38 C579.42,193.11 586.45,202.57 604.20,207.71 C619.49,212.14 629.01,208.04 645.50,207.30 C662.05,206.56 670.36,205.97 686.80,204.00 C703.40,202.01 712.56,202.91 728.10,197.40 C745.60,191.19 754.27,171.99 769.40,174.71 C787.31,177.93 791.87,201.81 810.70,212.25 C824.91,220.13 836.73,223.86 852.00,220.50 C869.77,216.60 875.47,201.22 893.30,194.10 C908.51,188.02 919.46,183.72 934.60,187.50 C952.50,191.97 959.38,203.84 975.90,214.72" fill="none" stroke="rgb(235,96,104)" stroke-width="2.5"/>
<circle cx="562.9" cy="183.4" r="1.8" fill="rgb(235,96,104)"/>
<circle cx="604.2" cy="207.7" r="1.8" fill="rgb(235,96,104)"/>
<circle cx="645.5" cy="207.3" r="1.8" fill="rgb(235,96,104)"/>
<circle cx="686.8" cy="204.0" r="1.8" fill="rgb(235,96,104)"/>
<circle cx="728.1" cy="197.4" r="1.8" fill="rgb(235,96,104)"/>
<circle cx="769.4" cy="174.7" r="1.8" fill="rgb(235,96,104)"/>
<circle cx="810.7" cy="212.2" r="1.8" fill="rgb(235,96,104)"/>
<circle cx="852.0" cy="220.5" r="1.8" fill="rgb(235,96,104)"/>
<circle cx="893.3" cy="194.1" r="1.8" fill="rgb(235,96,104)"/>
<circle cx="934.6" cy="187.5" r="1.8" fill="rgb(235,96,104)"/>
<circle cx="975.9" cy="214.7" r="1.8" fill="rgb(235,96,104)"/>
</svg>
<div style="position:absolute;left:552.1px;top:268.3px;width:28.5px;height:9.8px;box-sizing:border-box;border:2px solid rgb(235,96,104);background:rgba(235,96,104,0.20)"></div>
<div style="position:absolute;left:585.1px;top:268.2px;font-size:8px;line-height:10px;color:#666;white-space:nowrap">エネルギー</div>
<div style="position:absolute;left:631.3px;top:268.3px;width:28.5px;height:9.8px;box-sizing:border-box;border:2px solid rgb(72,166,233);background:rgba(72,166,233,0.20)"></div>
<div style="position:absolute;left:664.3px;top:268.2px;font-size:8px;line-height:10px;color:#666;white-space:nowrap">content</div>
<div style="position:absolute;left:696.2px;top:268.3px;width:28.5px;height:9.8px;box-sizing:border-box;border:2px solid rgb(124,192,44);background:rgba(124,192,44,0.20)"></div>
<div style="position:absolute;left:729.2px;top:268.2px;font-size:8px;line-height:10px;color:#666;white-space:nowrap">動揺</div>
<div style="position:absolute;left:751.0px;top:268.3px;width:28.5px;height:9.8px;box-sizing:border-box;border:2px solid rgb(118,88,228);background:rgba(118,88,228,0.20)"></div>
<div style="position:absolute;left:784.0px;top:268.2px;font-size:8px;line-height:10px;color:#666;white-space:nowrap">攻撃性/憤り</div>
<div style="position:absolute;left:832.0px;top:268.3px;width:28.5px;height:9.8px;box-sizing:border-box;border:2px solid rgb(245,169,86);background:rgba(245,169,86,0.20)"></div>
<div style="position:absolute;left:865.0px;top:268.2px;font-size:8px;line-height:10px;color:#666;white-space:nowrap">ストレス</div>
<div style="position:absolute;left:904.0px;top:268.3px;width:28.5px;height:9.8px;box-sizing:border-box;border:2px solid rgb(214,66,118);background:rgba(214,66,118,0.20)"></div>
<div style="position:absolute;left:937.0px;top:268.2px;font-size:8px;line-height:10px;color:#666;white-space:nowrap">不確実</div>
<div style="position:absolute;left:536.8px;top:283.5px;width:28.5px;height:9.8px;box-sizing:border-box;border:2px solid rgb(235,96,104);background:rgba(235,96,104,0.20)"></div>
<div style="position:absolute;left:569.8px;top:283.4px;font-size:8px;line-height:10px;color:#666;white-space:nowrap">興奮</div>
<div style="position:absolute;left:591.7px;top:283.5px;width:28.5px;height:9.8px;box-sizing:border-box;border:2px solid rgb(72,166,233);background:rgba(72,166,233,0.20)"></div>
<div style="position:absolute;left:624.7px;top:283.4px;font-size:8px;line-height:10px;color:#666;white-space:nowrap">集中</div>
<div style="position:absolute;left:646.3px;top:283.5px;width:28.5px;height:9.8px;box-sizing:border-box;border:2px solid rgb(124,192,44);background:rgba(124,192,44,0.20)"></div>
<div style="position:absolute;left:679.3px;top:283.4px;font-size:8px;line-height:10px;color:#666;white-space:nowrap">感情/バランス/論理</div>
<div style="position:absolute;left:755.0px;top:283.5px;width:28.5px;height:9.8px;box-sizing:border-box;border:2px solid rgb(118,88,228);background:rgba(118,88,228,0.20)"></div>
<div style="position:absolute;left:788.0px;top:283.4px;font-size:8px;line-height:10px;color:#666;white-space:nowrap">躊躇</div>
<div style="position:absolute;left:809.3px;top:283.5px;width:28.5px;height:9.8px;box-sizing:border-box;border:2px solid rgb(245,169,86);background:rgba(245,169,86,0.20)"></div>
<div style="position:absolute;left:842.3px;top:283.4px;font-size:8px;line-height:10px;color:#666;white-space:nowrap">脳活動</div>
<div style="position:absolute;left:872.0px;top:283.5px;width:28.5px;height:9.8px;box-sizing:border-box;border:2px solid rgb(214,66,118);background:rgba(214,66,118,0.20)"></div>
<div style="position:absolute;left:905.0px;top:283.4px;font-size:8px;line-height:10px;color:#666;white-space:nowrap">困惑</div>
<div style="position:absolute;left:926.6px;top:283.5px;width:28.5px;height:9.8px;box-sizing:border-box;border:2px solid rgb(235,96,104);background:rgba(235,96,104,0.20)"></div>
<div style="position:absolute;left:959.6px;top:283.4px;font-size:8px;line-height:10px;color:#666;white-space:nowrap">思考</div>
<div style="position:absolute;left:557.6px;top:298.5px;width:28.5px;height:9.8px;box-sizing:border-box;border:2px solid rgb(72,166,233);background:rgba(72,166,233,0.20)"></div>
<div style="position:absolute;left:590.6px;top:298.4px;font-size:8px;line-height:10px;color:#666;white-space:nowrap">想像力</div>
<div style="position:absolute;left:620.3px;top:298.5px;width:28.5px;height:9.8px;box-sizing:border-box;border:2px solid rgb(124,192,44);background:rgba(124,192,44,0.20)"></div>
<div style="position:absolute;left:653.3px;top:298.4px;font-size:8px;line-height:10px;color:#666;white-space:nowrap">極端な起伏</div>
<div style="position:absolute;left:699.5px;top:298.5px;width:28.5px;height:9.8px;box-sizing:border-box;border:2px solid rgb(118,88,228);background:rgba(118,88,228,0.20)"></div>
<div style="position:absolute;left:732.5px;top:298.4px;font-size:8px;line-height:10px;color:#666;white-space:nowrap">情熱</div>
<div style="position:absolute;left:753.6px;top:298.5px;width:28.5px;height:9.8px;box-sizing:border-box;border:2px solid rgb(245,169,86);background:rgba(245,169,86,0.20)"></div>
<div style="position:absolute;left:786.6px;top:298.4px;font-size:8px;line-height:10px;color:#666;white-space:nowrap">雰囲気/会話傾向</div>
<div style="position:absolute;left:851.8px;top:298.5px;width:28.5px;height:9.8px;box-sizing:border-box;border:2px solid rgb(214,66,118);background:rgba(214,66,118,0.20)"></div>
<div style="position:absolute;left:884.8px;top:298.4px;font-size:8px;line-height:10px;color:#666;white-space:nowrap">期待</div>
<div style="position:absolute;left:906.0px;top:298.5px;width:28.5px;height:9.8px;box-sizing:border-box;border:2px solid rgb(235,96,104);background:rgba(235,96,104,0.20)"></div>
<div style="position:absolute;left:939.0px;top:298.4px;font-size:8px;line-height:10px;color:#666;white-space:nowrap">不満</div>
<div style="position:absolute;left:732.4px;top:313.2px;width:28.5px;height:9.8px;box-sizing:border-box;border:2px solid rgb(72,166,233);background:rgba(72,166,233,0.20)"></div>
<div style="position:absolute;left:765.4px;top:313.1px;font-size:8px;line-height:10px;color:#666;white-space:nowrap">自信</div>
<div class="abs" style="left:527px;top:347px;font-size:20px;line-height:20px;font-weight:bold;letter-spacing:1.7px;color:#111">表情分析</div>
<svg width="1000" height="583" style="position:absolute;left:0;top:0">
<line x1="559.2" y1="497.6" x2="987" y2="497.6" stroke="#e9e9e9" stroke-width="1"/>
<text x="556" y="500.5" font-size="8" fill="#666" text-anchor="end" font-family='"Liberation Sans", sans-serif'>0</text>
<line x1="559.2" y1="474.6" x2="987" y2="474.6" stroke="#e9e9e9" stroke-width="1"/>
<text x="556" y="477.5" font-size="8" fill="#666" text-anchor="end" font-family='"Liberation Sans", sans-serif'>0.2</text>
<line x1="559.2" y1="451.6" x2="987" y2="451.6" stroke="#e9e9e9" stroke-width="1"/>
<text x="556" y="454.5" font-size="8" fill="#666" text-anchor="end" font-family='"Liberation Sans", sans-serif'>0.4</text>
<line x1="559.2" y1="428.6" x2="987" y2="428.6" stroke="#e9e9e9" stroke-width="1"/>
<text x="556" y="431.5" font-size="8" fill="#666" text-anchor="end" font-family='"Liberation Sans", sans-serif'>0.6</text>
<line x1="559.2" y1="405.6" x2="987" y2="405.6" stroke="#e9e9e9" stroke-width="1"/>
<text x="556" y="408.5" font-size="8" fill="#666" text-anchor="end" font-family='"Liberation Sans", sans-serif'>0.8</text>
<line x1="559.2" y1="382.6" x2="987" y2="382.6" stroke="#e9e9e9" stroke-width="1"/>
<text x="556" y="385.5" font-size="8" fill="#666" text-anchor="end" font-family='"Liberation Sans", sans-serif'>1.0</text>
<line x1="563.2" y1="382.6" x2="563.2" y2="501.6" stroke="#e9e9e9" stroke-width="1"/>
<text transform="translate(565.7,511) rotate(-45)" font-size="8" fill="#666" text-anchor="end" font-family='"Liberation Sans", sans-serif'>0.0s</text>
<line x1="579.3" y1="382.6" x2="579.3" y2="501.6" stroke="#e9e9e9" stroke-width="1"/>
<text transform="translate(581.8,511) rotate(-45)" font-size="8" fill="#666" text-anchor="end" font-family='"Liberation Sans", sans-serif'>3.1s</text>
<line x1="595.4" y1="382.6" x2="595.4" y2="501.6" stroke="#e9e9e9" stroke-width="1"/>
<text transform="translate(597.9,511) rotate(-45)" font-size="8" fill="#666" text-anchor="end" font-family='"Liberation Sans", sans-serif'>5.7s</text>
<line x1="611.5" y1="382.6" x2="611.5" y2="501.6" stroke="#e9e9e9" stroke-width="1"/>
<text transform="translate(614.0,511) rotate(-45)" font-size="8" fill="#666" text-anchor="end" font-family='"Liberation Sans", sans-serif'>8.4s</text>
<line x1="627.6" y1="382.6" x2="627.6" y2="501.6" stroke="#e9e9e9" stroke-width="1"/>
<text transform="translate(630.1,511) rotate(-45)" font-size="8" fill="#666" text-anchor="end" font-family='"Liberation Sans", sans-serif'>11.0s</text>
<line x1="643.7" y1="382.6" x2="643.7" y2="501.6" stroke="#e9e9e9" stroke-width="1"/>
<text transform="translate(646.2,511) rotate(-45)" font-size="8" fill="#666" text-anchor="end" font-family='"Liberation Sans", sans-serif'>13.6s</text>
<line x1="659.7" y1="382.6" x2="659.7" y2="501.6" stroke="#e9e9e9" stroke-width="1"/>
<text transform="translate(662.2,511) rotate(-45)" font-size="8" fill="#666" text-anchor="end" font-family='"Liberation Sans", sans-serif'>16.2s</text>
<line x1="675.8" y1="382.6" x2="675.8" y2="501.6" stroke="#e9e9e9" stroke-width="1"/>
<text transform="translate(678.3,511) rotate(-45)" font-size="8" fill="#666" text-anchor="end" font-family='"Liberation Sans", sans-serif'>18.9s</text>
<line x1="691.9" y1="382.6" x2="691.9" y2="501.6" stroke="#e9e9e9" stroke-width="1"/>
<text transform="translate(694.4,511) rotate(-45)" font-size="8" fill="#666" text-anchor="end" font-family='"Liberation Sans", sans-serif'>21.5s</text>
<line x1="708.0" y1="382.6" x2="708.0" y2="501.6" stroke="#e9e9e9" stroke-width="1"/>
<text transform="translate(710.5,511) rotate(-45)" font-size="8" fill="#666" text-anchor="end" font-family='"Liberation Sans", sans-serif'>24.1s</text>
<line x1="724.1" y1="382.6" x2="724.1" y2="501.6" stroke="#e9e9e9" stroke-width="1"/>
<text transform="translate(726.6,511) rotate(-45)" font-size="8" fill="#666" text-anchor="end" font-family='"Liberation Sans", sans-serif'>26.7s</text>
<line x1="740.2" y1="382.6" x2="740.2" y2="501.6" stroke="#e9e9e9" stroke-width="1"/>
<text transform="translate(742.7,511) rotate(-45)" font-size="8" fill="#666" text-anchor="end" font-family='"Liberation Sans", sans-serif'>29.3s</text>
<line x1="756.3" y1="382.6" x2="756.3" y2="501.6" stroke="#e9e9e9" stroke-width="1"/>
<text transform="translate(758.8,511) rotate(-45)" font-size="8" fill="#666" text-anchor="end" font-family='"Liberation Sans", sans-serif'>31.9s</text>
<line x1="772.4" y1="382.6" x2="772.4" y2="501.6" stroke="#e9e9e9" stroke-width="1"/>
<text transform="translate(774.9,511) rotate(-45)" font-size="8" fill="#666" text-anchor="end" font-family='"Liberation Sans", sans-serif'>34.6s</text>
<line x1="788.5" y1="382.6" x2="788.5" y2="501.6" stroke="#e9e9e9" stroke-width="1"/>
<text transform="translate(791.0,511) rotate(-45)" font-size="8" fill="#666" text-anchor="end" font-family='"Liberation Sans", sans-serif'>37.2s</text>
<line x1="804.6" y1="382.6" x2="804.6" y2="501.6" stroke="#e9e9e9" stroke-width="1"/>
<text transform="translate(807.1,511) rotate(-45)" font-size="8" fill="#666" text-anchor="end" font-family='"Liberation Sans", sans-serif'>39.8s</text>
<line x1="820.6" y1="382.6" x2="820.6" y2="501.6" stroke="#e9e9e9" stroke-width="1"/>
<text transform="translate(823.1,511) rotate(-45)" font-size="8" fill="#666" text-anchor="end" font-family='"Liberation Sans", sans-serif'>42.4s</text>
<line x1="836.7" y1="382.6" x2="836.7" y2="501.6" stroke="#e9e9e9" stroke-width="1"/>
<text transform="translate(839.2,511) rotate(-45)" font-size="8" fill="#666" text-anchor="end" font-family='"Liberation Sans", sans-serif'>45.0s</text>
<line x1="852.8" y1="382.6" x2="852.8" y2="501.6" stroke="#e9e9e9" stroke-width="1"/>
<text transform="translate(855.3,511) rotate(-45)" font-size="8" fill="#666" text-anchor="end" font-family='"Liberation Sans", sans-serif'>47.6s</text>
<line x1="868.9" y1="382.6" x2="868.9" y2="501.6" stroke="#e9e9e9" stroke-width="1"/>
<text transform="translate(871.4,511) rotate(-45)" font-size="8" fill="#666" text-anchor="end" font-family='"Liberation Sans", sans-serif'>50.3s</text>
<line x1="885.0" y1="382.6" x2="885.0" y2="501.6" stroke="#e9e9e9" stroke-width="1"/>
<text transform="translate(887.5,511) rotate(-45)" font-size="8" fill="#666" text-anchor="end" font-family='"Liberation Sans", sans-serif'>52.9s</text>
<line x1="901.1" y1="382.6" x2="901.1" y2="501.6" stroke="#e9e9e9" stroke-width="1"/>
<text transform="translate(903.6,511) rotate(-45)" font-size="8" fill="#666" text-anchor="end" font-family='"Liberation Sans", sans-serif'>55.5s</text>
<line x1="917.2" y1="382.6" x2="917.2" y2="501.6" stroke="#e9e9e9" stroke-width="1"/>
<text transform="translate(919.7,511) rotate(-45)" font-size="8" fill="#666" text-anchor="end" font-family='"Liberation Sans", sans-serif'>58.1s</text>
<line x1="933.3" y1="382.6" x2="933.3" y2="501.6" stroke="#e9e9e9" stroke-width="1"/>
<text transform="translate(935.8,511) rotate(-45)" font-size="8" fill="#666" text-anchor="end" font-family='"Liberation Sans", sans-serif'>60.7s</text>
<line x1="949.4" y1="382.6" x2="949.4" y2="501.6" stroke="#e9e9e9" stroke-width="1"/>
<text transform="translate(951.9,511) rotate(-45)" font-size="8" fill="#666" text-anchor="end" font-family='"Liberation Sans", sans-serif'>63.3s</text>
<line x1="965.5" y1="382.6" x2="965.5" y2="501.6" stroke="#e9e9e9" stroke-width="1"/>
<text transform="translate(968.0,511) rotate(-45)" font-size="8" fill="#666" text-anchor="end" font-family='"Liberation Sans", sans-serif'>66.0s</text>
<line x1="981.5" y1="382.6" x2="981.5" y2="501.6" stroke="#e9e9e9" stroke-width="1"/>
<text transform="translate(984.0,511) rotate(-45)" font-size="8" fill="#666" text-anchor="end" font-family='"Liberation Sans", sans-serif'>68.6s</text>
<text x="774" y="539.5" font-size="8" fill="#666" text-anchor="middle" font-family='"Liberation Sans", sans-serif'>経過時間</text>
<text transform="translate(537.5,440) rotate(-90)" font-size="8" fill="#666" text-anchor="middle" font-family='"Liberation Sans", sans-serif'>スコア</text>
<polyline points="562.7,492.3 564.4,493.2 566.0,495.8 567.7,494.2 569.4,495.4 571.1,494.9 572.8,494.1 574.6,495.2 576.3,493.9 578.0,494.9 579.7,493.9 581.4,493.9 583.6,491.9 585.3,492.9 587.0,491.1 588.7,491.4 590.4,492.4 592.2,493.3 593.9,492.3 595.6,491.8 597.3,493.3 599.0,490.9 600.8,493.7 602.5,492.9 604.3,493.2 606.0,493.7 607.8,494.9 609.4,495.8 611.1,493.7 612.8,494.3 614.4,494.0 616.0,493.1 617.7,493.3 619.4,491.9 621.0,491.7 622.6,491.9 624.3,492.9 626.0,492.1 627.6,491.6 629.2,492.9 630.9,493.1 632.6,493.2 634.2,495.1 635.9,494.7 637.5,493.5 639.1,494.2 640.8,494.0 642.5,494.8 644.1,494.4 645.8,493.1 647.4,494.8 649.2,493.3 651.1,494.9 652.9,496.5 654.6,494.8 656.4,495.5 658.1,494.3 659.8,495.8 661.5,495.9 663.3,495.3 665.0,496.0 666.6,494.5 668.2,495.4 669.9,495.1 671.5,495.1 673.1,494.7 674.7,495.7 676.3,495.9 678.0,494.6 679.6,495.1 681.2,493.5 682.8,495.1 684.5,494.9 686.1,495.8 687.7,495.3 689.3,493.9 690.9,494.1 692.6,494.8 694.2,493.1 695.8,494.2 697.4,493.4 699.0,493.2 700.6,493.0 702.2,494.8 703.8,493.0 705.4,493.3 707.1,493.6 708.7,494.8 710.3,492.7 711.9,493.6 713.5,493.8 715.1,494.6 716.7,494.4 718.3,494.4 719.9,492.9 721.5,493.2 723.1,493.0 724.7,494.3 726.3,494.4 728.0,492.2 729.6,492.2 731.2,492.3 732.8,492.3 734.4,492.9 736.0,493.1 737.6,492.2 739.8,492.3 742.0,494.1 743.7,493.9 745.4,494.4 747.0,495.4 748.7,494.6 750.4,494.1 752.1,494.4 753.8,494.5 755.5,492.8 757.1,495.0 758.8,494.6 760.5,494.8 762.2,494.6 763.9,493.5 765.6,493.5 767.2,492.7 768.9,494.0 770.6,492.5 772.8,493.2 775.0,494.2 776.7,494.2 778.4,494.8 780.1,494.1 781.8,494.1 783.6,494.5 785.3,494.5 787.0,495.3 788.7,494.5 790.4,496.5 792.2,495.1 794.1,492.9 795.9,492.2 797.7,491.5 799.6,490.5 801.4,488.9 803.0,491.1 804.7,491.7 806.4,490.6 808.0,491.0 809.7,490.2 811.4,490.5 813.1,491.4 814.8,491.4 816.5,493.1 818.2,491.6 819.8,491.5 821.5,494.2 823.2,493.4 824.9,492.6 826.6,493.9 828.3,492.8 830.0,494.4 831.6,495.5 833.3,495.2 835.0,494.8 836.6,493.7 838.2,494.0 839.9,493.4 841.5,495.0 843.2,494.4 844.9,495.0 846.5,493.9 848.1,493.6 849.8,495.1 851.5,495.6 853.1,495.2 854.8,495.1 856.4,495.1 858.0,494.9 859.7,493.6 861.4,494.3 863.0,493.9 864.9,492.5 866.9,492.0 868.8,492.1 870.7,491.5 872.9,494.5 875.1,496.5 876.8,495.5 878.4,496.5 880.0,496.5 881.7,496.4 883.4,494.8 885.0,494.3 886.6,494.3 888.3,494.2 890.0,494.2 891.6,495.3 893.2,496.0 894.9,495.9 896.5,494.9 898.2,495.4 899.9,495.8 901.5,493.9 903.1,495.4 904.8,496.1 906.5,495.7 908.1,495.7 909.8,494.9 911.4,494.2 913.0,495.8 914.7,494.6 916.4,495.8 918.0,496.2 919.7,494.5 921.4,494.3 923.1,495.6 924.8,494.8 926.6,493.1 928.3,492.8 930.0,492.7 931.7,494.5 933.4,494.0 935.1,492.1 936.8,493.6 938.5,493.8 940.2,492.8 942.0,491.8 943.7,492.1 945.4,490.8 947.1,490.3 948.8,492.6 951.0,493.2 953.2,494.4 954.9,495.4 956.5,494.0 958.2,495.1 959.8,494.9 961.5,493.3 963.1,493.3 964.8,493.4 966.4,493.2 968.0,494.0 969.7,493.1 971.4,493.4 973.0,492.6 974.6,494.6 976.3,493.1 978.0,493.3 979.6,493.6 981.2,494.4 982.9,493.1 984.6,494.3 986.2,493.2" fill="none" stroke="rgb(245,169,86)" stroke-width="2.6" stroke-linejoin="round"/>
<polyline points="791.5,497.6 876.5,497.6" fill="none" stroke="rgb(124,192,44)" stroke-width="3.2" stroke-linejoin="round"/>
<polyline points="562.0,497.6 792.2,497.6 793.2,404.7 794.8,399.5 795.8,398.5 797.9,389.3 800.0,389.1 806.6,388.7 811.7,391.3 819.5,392.3 823.1,398.5 830.3,402.1 834.4,402.1 835.9,407.3 837.5,410.9 841.6,411.4 844.7,417.0 849.8,420.0 853.4,429.4 857.0,429.4 861.1,432.5 863.1,433.0 865.2,457.0 867.2,449.5 870.0,461.2 871.4,474.9 874.1,477.6 876.2,494.0 877.5,497.6 931.0,497.6 933.0,493.5 935.0,497.6 986.8,497.6" fill="none" stroke="rgb(235,96,104)" stroke-width="3.2" stroke-linejoin="round"/>
<polyline points="562.6,419.7 567.3,419.2 569.3,419.7 570.9,413.5 573.4,415.6 578.6,416.6 580.1,418.1 582.2,414.5 584.2,422.3 586.3,415.1 588.9,421.2 592.0,415.1 594.5,411.0 597.6,413.5 599.2,415.6 600.4,441.3 601.7,415.1 604.3,415.6 606.4,422.8 608.4,420.7 610.5,419.7 611.5,425.3 614.1,427.9 616.6,412.5 619.2,415.1 620.8,420.2 622.8,422.3 625.4,422.3 628.0,413.0 631.0,412.5 634.1,413.5 636.7,413.5 637.2,422.8 638.8,475.0 641.3,436.2 643.4,419.7 646.0,415.1 648.5,421.7 650.1,429.0 651.5,434.6 653.6,434.6 655.7,427.9 657.7,425.9 658.2,415.1 660.3,414.5 661.3,415.6 662.1,448.5 662.9,415.6 664.4,412.0 666.5,412.0 670.6,414.0 675.7,414.0 680.9,413.0 686.0,413.0 693.2,413.5 696.8,416.1 699.4,412.0 703.5,412.3 708.6,413.0 710.5,458.0 712.2,415.1 714.8,412.0 720.0,413.5 727.2,413.7 732.3,413.5 739.5,414.5 742.1,412.0 743.6,412.0 744.8,440.3 746.2,412.5 748.8,412.5 749.6,446.4 751.7,455.4 753.7,455.4 755.4,449.9 756.5,416.3 757.8,412.1 767.4,413.5 770.9,414.9 772.2,456.0 774.3,427.9 776.4,419.0 780.5,416.3 781.8,445.0 784.6,457.4 786.0,451.9 787.3,462.2 788.7,449.2 791.4,451.9 793.5,453.3 794.9,434.8 796.9,417.6 800.4,426.5 804.5,419.0 806.5,420.4 807.2,442.3 808.6,427.9 811.3,426.5 815.4,425.9 818.9,421.7 819.6,447.8 821.6,420.4 826.4,417.6 830.5,419.0 833.3,424.5 834.6,447.8 837.4,421.1 840.0,418.0 845.0,418.5 850.0,414.4 854.8,417.0 857.2,427.6 859.6,415.6 866.8,414.4 869.2,451.6 872.8,418.0 876.4,412.0 883.6,412.0 885.3,452.8 887.2,412.0 890.8,413.2 893.2,434.8 896.8,439.6 900.4,455.2 902.3,470.8 904.0,422.8 907.6,412.0 917.2,413.2 922.0,412.0 928.0,413.2 928.7,450.4 930.4,413.2 936.4,414.4 944.8,413.2 946.0,425.2 948.4,442.0 952.0,438.4 956.8,443.2 965.2,444.4 968.8,442.0 970.0,450.4 971.2,421.6 974.8,413.2 986.8,413.2" fill="none" stroke="rgb(72,166,233)" stroke-width="3.0" stroke-linejoin="round"/>
</svg>
<div style="position:absolute;left:627.3px;top:550.8px;width:28.5px;height:9.8px;box-sizing:border-box;border:2px solid rgb(72,166,233);background:rgba(72,166,233,0.20)"></div>
<div style="position:absolute;left:660.3px;top:550.7px;font-size:8px;line-height:10px;color:#666;white-space:nowrap">視線</div>
<div style="position:absolute;left:681.4px;top:550.8px;width:28.5px;height:9.8px;box-sizing:border-box;border:2px solid rgb(235,96,104);background:rgba(235,96,104,0.20)"></div>
<div style="position:absolute;left:714.4px;top:550.7px;font-size:8px;line-height:10px;color:#666;white-space:nowrap">笑顔</div>
<div style="position:absolute;left:736.8px;top:550.8px;width:28.5px;height:9.8px;box-sizing:border-box;border:2px solid rgb(124,192,44);background:rgba(124,192,44,0.20)"></div>
<div style="position:absolute;left:769.8px;top:550.7px;font-size:8px;line-height:10px;color:#666;white-space:nowrap">うなずき</div>
<div style="position:absolute;left:807.4px;top:550.8px;width:28.5px;height:9.8px;box-sizing:border-box;border:2px solid rgb(245,169,86);background:rgba(245,169,86,0.20)"></div>
<div style="position:absolute;left:840.4px;top:550.7px;font-size:8px;line-height:10px;color:#666;white-space:nowrap">緊張（眉/口）</div>
</body></html>
